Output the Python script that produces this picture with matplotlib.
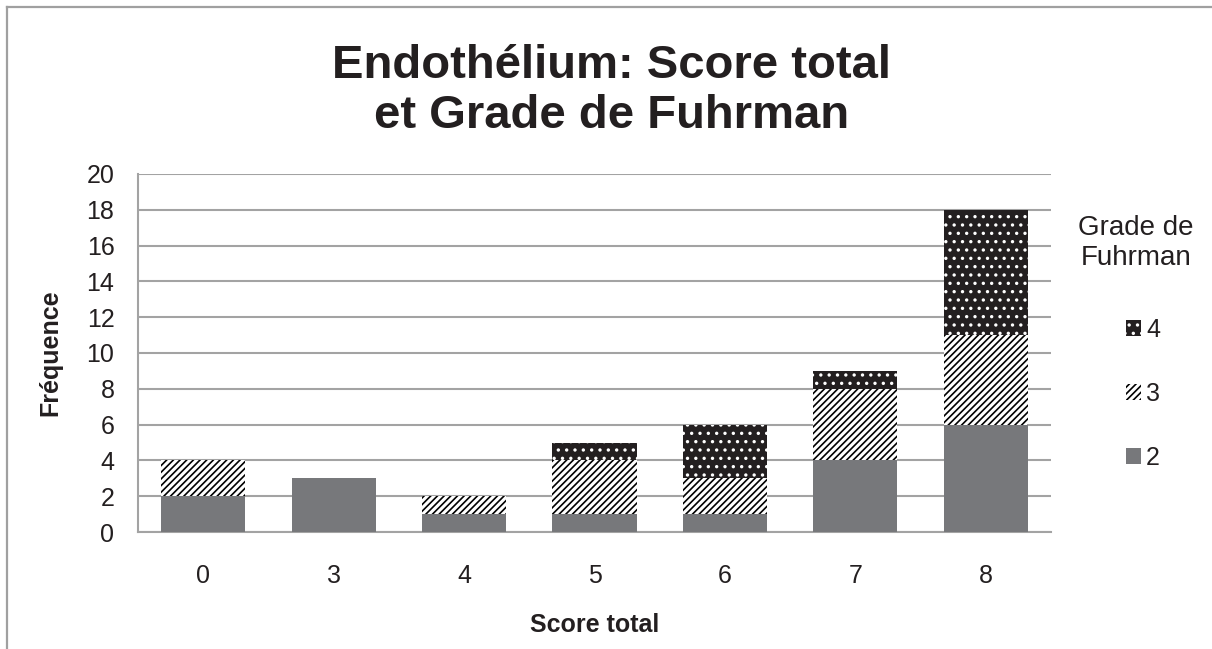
import matplotlib
matplotlib.use("Agg")
import matplotlib.pyplot as plt
from matplotlib.patches import Patch
from matplotlib.lines import Line2D
import numpy as np

plt.rcParams['font.family'] = ['Liberation Sans', 'DejaVu Sans']
plt.rcParams['hatch.linewidth'] = 1.2

categories = ['0', '3', '4', '5', '6', '7', '8']
grade2 = [2, 3, 1, 1, 1, 4, 6]
grade3 = [2, 0, 1, 3, 2, 4, 5]
grade4 = [0, 0, 0, 1, 3, 1, 7]
y_ticks = list(range(0, 21, 2))

title = "Endothélium: Score total\net Grade de Fuhrman"
xlabel = "Score total"
ylabel = "Fréquence"
legend_title = "Grade de\nFuhrman"

W, H = 1212, 649
fig = plt.figure(figsize=(W / 100, H / 100), dpi=100)
ax = fig.add_axes([138 / W, 1 - 532 / H, (1051 - 138) / W, (532 - 174) / H])

c2 = '#77787b'
c4 = '#231f20'
txt_c = '#231f20'
grid_c = '#a3a3a3'

x = np.arange(len(categories))
bw = 0.645
ax.bar(x, grade2, bw, color=c2, linewidth=0, zorder=3)
bottom3 = np.array(grade2)
ax.bar(x, grade3, bw, bottom=bottom3, facecolor='white', edgecolor='black',
       hatch='/////', linewidth=0, zorder=3)
bottom4 = bottom3 + np.array(grade3)
ax.bar(x, grade4, bw, bottom=bottom4, facecolor=c4, edgecolor='white',
       hatch='..', linewidth=0, zorder=3)

ax.set_xlim(-0.5, len(categories) - 0.5)
ax.set_ylim(0, 20)
ax.set_yticks(y_ticks)
ax.set_xticks(x)
ax.set_xticklabels(categories)
ax.tick_params(axis='both', length=0, labelsize=18, colors=txt_c)
ax.tick_params(axis='y', pad=17)
ax.tick_params(axis='x', pad=23)
ax.yaxis.grid(True, color=grid_c, linewidth=1.5, zorder=0)
ax.set_axisbelow(True)
for s in ['top', 'right']:
    ax.spines[s].set_visible(False)
for s in ['left', 'bottom']:
    ax.spines[s].set_color(grid_c)
    ax.spines[s].set_linewidth(1.5)

fig.text(612 / W, 1 - 91 / H, title, ha='center', va='center', fontsize=34,
         fontweight='bold', color=txt_c, linespacing=1.2)
fig.text(595 / W, 1 - 625 / H, xlabel, ha='center', va='center', fontsize=18,
         fontweight='bold', color=txt_c)
fig.text(50 / W, 1 - 353 / H, ylabel, ha='center', va='center', fontsize=18,
         fontweight='bold', color=txt_c, rotation=90)

fig.text(1136 / W, 1 - 243 / H, legend_title, ha='center', va='center', fontsize=20,
         color=txt_c, linespacing=1.2)

handles = [
    Patch(facecolor=c4, edgecolor='white', hatch='..', linewidth=0),
    Patch(facecolor='white', edgecolor='black', hatch='/////', linewidth=0),
    Patch(facecolor=c2, linewidth=0),
]
labels = ['4', '3', '2']
leg = fig.legend(handles, labels, loc='upper left',
                 bbox_to_anchor=(1126 / W, 1 - 318 / H), frameon=False,
                 fontsize=18, handlelength=0.6, handleheight=0.6,
                 handletextpad=0.2, labelspacing=1.6, borderpad=0,
                 borderaxespad=0)
for t in leg.get_texts():
    t.set_color(txt_c)

# outer chart border (left and top)
fig.add_artist(Line2D([7 / W, 7 / W], [0, 1 - 7 / H], transform=fig.transFigure,
                      color='#a0a0a0', linewidth=1.6))
fig.add_artist(Line2D([7 / W, 1], [1 - 7 / H, 1 - 7 / H], transform=fig.transFigure,
                      color='#a0a0a0', linewidth=1.6))

fig.savefig('out.png', dpi=100)
